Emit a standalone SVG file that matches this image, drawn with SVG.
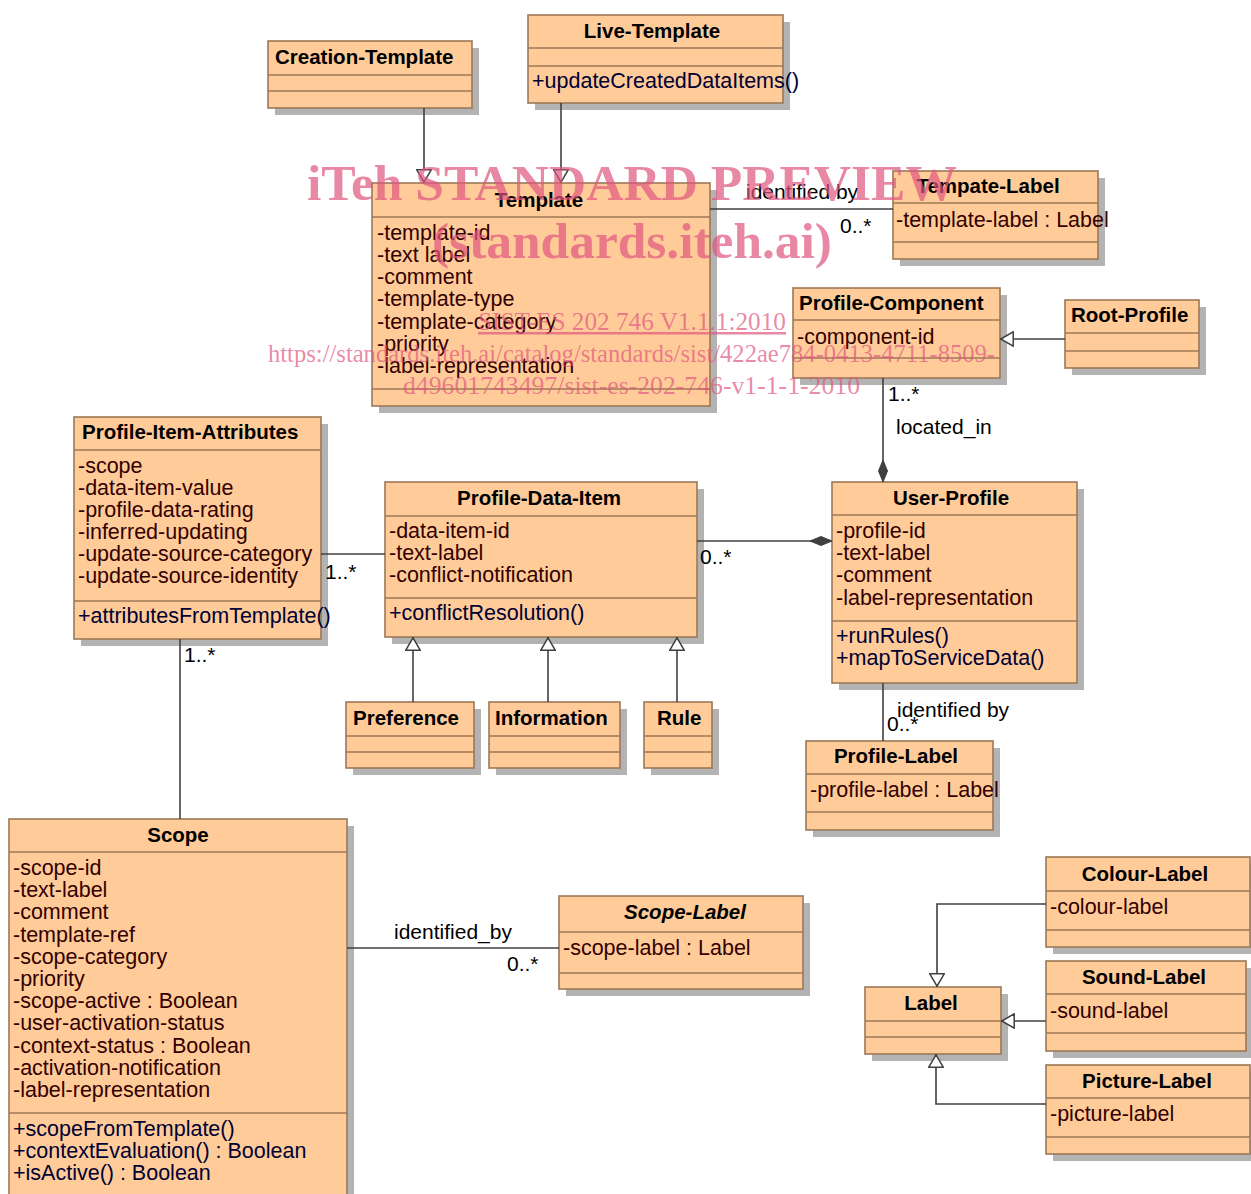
<svg xmlns="http://www.w3.org/2000/svg" width="1251" height="1194" viewBox="0 0 1251 1194">
<style>
.bg{fill:#ffffff}
.shadow{fill:#b3b3b3}
.box{fill:#ffcc99;stroke:#9c7857;stroke-width:1.6}
.sep{stroke:#9c7857;stroke-width:1.6}
text{font-family:"Liberation Sans",Arial,Helvetica,sans-serif}
.title{font-size:20.5px;font-weight:bold;fill:#000000}
.ttl-c{text-anchor:middle}
.italic{font-style:italic}
.attr{font-size:21.5px;fill:#330000}
.meth{font-size:21.5px;fill:#000033}
.lbl{font-size:21px;fill:#000000}
.conn{stroke:#404040;stroke-width:1.6;fill:none}
.gen{marker-end:url(#gen)}
.comp{marker-end:url(#comp)}
.wm{font-family:"Liberation Serif","Times New Roman",serif;fill:#e0557f;fill-opacity:0.7}
.wm-big{font-size:51px;font-weight:bold}
.wm-small{font-size:25px}
</style>
<defs>
<marker id="gen" viewBox="0 0 14 16" refX="14" refY="8" markerWidth="14" markerHeight="16" markerUnits="userSpaceOnUse" orient="auto">
<path d="M0.8,0.8 L13.2,8 L0.8,15.2 Z" fill="#ffffff" stroke="#404040" stroke-width="1.5"/>
</marker>
<marker id="comp" viewBox="0 0 22 10" refX="22" refY="5" markerWidth="22" markerHeight="10" markerUnits="userSpaceOnUse" orient="auto">
<path d="M0,5 L11,0.5 L22,5 L11,9.5 Z" fill="#404040" stroke="#404040" stroke-width="1"/>
</marker>
</defs>
<rect class="bg" x="0" y="0" width="1251" height="1194"/>

<g id="creation-template">
<rect class="shadow" x="275" y="48" width="204" height="67"/>
<rect class="box" x="268" y="41" width="204" height="67"/>
<line class="sep" x1="268" y1="75" x2="472" y2="75"/>
<line class="sep" x1="268" y1="91" x2="472" y2="91"/>
<text class="title" x="275" y="64">Creation-Template</text>
</g>

<g id="live-template">
<rect class="shadow" x="535" y="22" width="255" height="88"/>
<rect class="box" x="528" y="15" width="255" height="88"/>
<line class="sep" x1="528" y1="48" x2="783" y2="48"/>
<line class="sep" x1="528" y1="66" x2="783" y2="66"/>
<text class="title ttl-c" x="652" y="38">Live-Template</text>
<text class="meth" x="532" y="88">+updateCreatedDataItems()</text>
</g>

<g id="template">
<rect class="shadow" x="379" y="190" width="338" height="223"/>
<rect class="box" x="372" y="183" width="338" height="223"/>
<line class="sep" x1="372" y1="217" x2="710" y2="217"/>
<line class="sep" x1="372" y1="389" x2="710" y2="389"/>
<text class="title ttl-c" x="539" y="207">Template</text>
<text class="attr" x="377" y="240">-template-id</text>
<text class="attr" x="377" y="262">-text label</text>
<text class="attr" x="377" y="284">-comment</text>
<text class="attr" x="377" y="306">-template-type</text>
<text class="attr" x="377" y="329">-template-category</text>
<text class="attr" x="377" y="351">-priority</text>
<text class="attr" x="377" y="373">-label-representation</text>
</g>

<g id="tempate-label">
<rect class="shadow" x="900" y="178" width="205" height="88"/>
<rect class="box" x="893" y="171" width="205" height="88"/>
<line class="sep" x1="893" y1="203" x2="1098" y2="203"/>
<line class="sep" x1="893" y1="242" x2="1098" y2="242"/>
<text class="title ttl-c" x="988" y="193">Tempate-Label</text>
<text class="attr" x="896" y="227">-template-label : Label</text>
</g>

<g id="profile-component">
<rect class="shadow" x="800" y="295" width="207" height="90"/>
<rect class="box" x="793" y="288" width="207" height="90"/>
<line class="sep" x1="793" y1="320" x2="1000" y2="320"/>
<line class="sep" x1="793" y1="358" x2="1000" y2="358"/>
<text class="title" x="799" y="310">Profile-Component</text>
<text class="attr" x="797" y="344">-component-id</text>
</g>

<g id="root-profile">
<rect class="shadow" x="1072" y="307" width="134" height="68"/>
<rect class="box" x="1065" y="300" width="134" height="68"/>
<line class="sep" x1="1065" y1="333" x2="1199" y2="333"/>
<line class="sep" x1="1065" y1="351" x2="1199" y2="351"/>
<text class="title" x="1071" y="322">Root-Profile</text>
</g>

<g id="profile-item-attributes">
<rect class="shadow" x="81" y="424" width="247" height="222"/>
<rect class="box" x="74" y="417" width="247" height="222"/>
<line class="sep" x1="74" y1="450" x2="321" y2="450"/>
<line class="sep" x1="74" y1="601" x2="321" y2="601"/>
<text class="title" x="82" y="439">Profile-Item-Attributes</text>
<text class="attr" x="78" y="473">-scope</text>
<text class="attr" x="78" y="495">-data-item-value</text>
<text class="attr" x="78" y="517">-profile-data-rating</text>
<text class="attr" x="78" y="539">-inferred-updating</text>
<text class="attr" x="78" y="561">-update-source-category</text>
<text class="attr" x="78" y="583">-update-source-identity</text>
<text class="meth" x="78" y="623">+attributesFromTemplate()</text>
</g>

<g id="profile-data-item">
<rect class="shadow" x="392" y="489" width="312" height="155"/>
<rect class="box" x="385" y="482" width="312" height="155"/>
<line class="sep" x1="385" y1="516" x2="697" y2="516"/>
<line class="sep" x1="385" y1="598" x2="697" y2="598"/>
<text class="title ttl-c" x="539" y="505">Profile-Data-Item</text>
<text class="attr" x="389" y="538">-data-item-id</text>
<text class="attr" x="389" y="560">-text-label</text>
<text class="attr" x="389" y="582">-conflict-notification</text>
<text class="meth" x="389" y="620">+conflictResolution()</text>
</g>

<g id="user-profile">
<rect class="shadow" x="839" y="489" width="245" height="201"/>
<rect class="box" x="832" y="482" width="245" height="201"/>
<line class="sep" x1="832" y1="515" x2="1077" y2="515"/>
<line class="sep" x1="832" y1="621" x2="1077" y2="621"/>
<text class="title ttl-c" x="951" y="505">User-Profile</text>
<text class="attr" x="836" y="538">-profile-id</text>
<text class="attr" x="836" y="560">-text-label</text>
<text class="attr" x="836" y="582">-comment</text>
<text class="attr" x="836" y="605">-label-representation</text>
<text class="meth" x="836" y="643">+runRules()</text>
<text class="meth" x="836" y="665">+mapToServiceData()</text>
</g>

<g id="profile-label">
<rect class="shadow" x="813" y="748" width="187" height="89"/>
<rect class="box" x="806" y="741" width="187" height="89"/>
<line class="sep" x1="806" y1="774" x2="993" y2="774"/>
<line class="sep" x1="806" y1="812" x2="993" y2="812"/>
<text class="title ttl-c" x="896" y="763">Profile-Label</text>
<text class="attr" x="810" y="797">-profile-label : Label</text>
</g>

<g id="preference">
<rect class="shadow" x="353" y="709" width="128" height="66"/>
<rect class="box" x="346" y="702" width="128" height="66"/>
<line class="sep" x1="346" y1="736" x2="474" y2="736"/>
<line class="sep" x1="346" y1="752" x2="474" y2="752"/>
<text class="title" x="353" y="725">Preference</text>
</g>

<g id="information">
<rect class="shadow" x="496" y="709" width="131" height="66"/>
<rect class="box" x="489" y="702" width="131" height="66"/>
<line class="sep" x1="489" y1="736" x2="620" y2="736"/>
<line class="sep" x1="489" y1="752" x2="620" y2="752"/>
<text class="title" x="495" y="725">Information</text>
</g>

<g id="rule">
<rect class="shadow" x="651" y="709" width="68" height="66"/>
<rect class="box" x="644" y="702" width="68" height="66"/>
<line class="sep" x1="644" y1="736" x2="712" y2="736"/>
<line class="sep" x1="644" y1="752" x2="712" y2="752"/>
<text class="title" x="657" y="725">Rule</text>
</g>

<g id="scope">
<rect class="shadow" x="16" y="826" width="338" height="380"/>
<rect class="box" x="9" y="819" width="338" height="380"/>
<line class="sep" x1="9" y1="852" x2="347" y2="852"/>
<line class="sep" x1="9" y1="1113" x2="347" y2="1113"/>
<text class="title ttl-c" x="178" y="842">Scope</text>
<text class="attr" x="13" y="875">-scope-id</text>
<text class="attr" x="13" y="897">-text-label</text>
<text class="attr" x="13" y="919">-comment</text>
<text class="attr" x="13" y="942">-template-ref</text>
<text class="attr" x="13" y="964">-scope-category</text>
<text class="attr" x="13" y="986">-priority</text>
<text class="attr" x="13" y="1008">-scope-active : Boolean</text>
<text class="attr" x="13" y="1030">-user-activation-status</text>
<text class="attr" x="13" y="1053">-context-status : Boolean</text>
<text class="attr" x="13" y="1075">-activation-notification</text>
<text class="attr" x="13" y="1097">-label-representation</text>
<text class="meth" x="13" y="1136">+scopeFromTemplate()</text>
<text class="meth" x="13" y="1158">+contextEvaluation() : Boolean</text>
<text class="meth" x="13" y="1180">+isActive() : Boolean</text>
</g>

<g id="scope-label">
<rect class="shadow" x="566" y="903" width="244" height="93"/>
<rect class="box" x="559" y="896" width="244" height="93"/>
<line class="sep" x1="559" y1="932" x2="803" y2="932"/>
<line class="sep" x1="559" y1="973" x2="803" y2="973"/>
<text class="title ttl-c italic" x="685" y="919">Scope-Label</text>
<text class="attr" x="563" y="955">-scope-label : Label</text>
</g>

<g id="label">
<rect class="shadow" x="872" y="994" width="136" height="67"/>
<rect class="box" x="865" y="987" width="136" height="67"/>
<line class="sep" x1="865" y1="1021" x2="1001" y2="1021"/>
<line class="sep" x1="865" y1="1037" x2="1001" y2="1037"/>
<text class="title ttl-c" x="931" y="1010">Label</text>
</g>

<g id="colour-label">
<rect class="shadow" x="1053" y="864" width="204" height="90"/>
<rect class="box" x="1046" y="857" width="204" height="90"/>
<line class="sep" x1="1046" y1="891" x2="1250" y2="891"/>
<line class="sep" x1="1046" y1="930" x2="1250" y2="930"/>
<text class="title ttl-c" x="1145" y="881">Colour-Label</text>
<text class="attr" x="1050" y="914">-colour-label</text>
</g>

<g id="sound-label">
<rect class="shadow" x="1053" y="968" width="200" height="90"/>
<rect class="box" x="1046" y="961" width="200" height="90"/>
<line class="sep" x1="1046" y1="994" x2="1246" y2="994"/>
<line class="sep" x1="1046" y1="1033" x2="1246" y2="1033"/>
<text class="title ttl-c" x="1144" y="984">Sound-Label</text>
<text class="attr" x="1050" y="1018">-sound-label</text>
</g>

<g id="picture-label">
<rect class="shadow" x="1053" y="1072" width="204" height="89"/>
<rect class="box" x="1046" y="1065" width="204" height="89"/>
<line class="sep" x1="1046" y1="1098" x2="1250" y2="1098"/>
<line class="sep" x1="1046" y1="1137" x2="1250" y2="1137"/>
<text class="title ttl-c" x="1147" y="1088">Picture-Label</text>
<text class="attr" x="1050" y="1121">-picture-label</text>
</g>

<g id="connectors">
<line class="conn gen" x1="424" y1="108" x2="424" y2="183"/>
<line class="conn gen" x1="561" y1="103" x2="561" y2="183"/>
<line class="conn" x1="710" y1="209" x2="893" y2="209"/>
<line class="conn gen" x1="1065" y1="339" x2="1000" y2="339"/>
<line class="conn comp" x1="883" y1="378" x2="883" y2="482"/>
<line class="conn" x1="321" y1="554" x2="385" y2="554"/>
<line class="conn comp" x1="697" y1="541" x2="832" y2="541"/>
<line class="conn gen" x1="413" y1="702" x2="413" y2="637"/>
<line class="conn gen" x1="548" y1="702" x2="548" y2="637"/>
<line class="conn gen" x1="677" y1="702" x2="677" y2="637"/>
<line class="conn" x1="883" y1="683" x2="883" y2="741"/>
<line class="conn" x1="180" y1="639" x2="180" y2="819"/>
<line class="conn" x1="347" y1="948" x2="559" y2="948"/>
<polyline class="conn gen" points="1046,904 937,904 937,987"/>
<line class="conn gen" x1="1046" y1="1021" x2="1001" y2="1021"/>
<polyline class="conn gen" points="1046,1104 936,1104 936,1054"/>
<text class="lbl" x="746" y="199">identified by</text>
<text class="lbl" x="840" y="233">0..*</text>
<text class="lbl" x="888" y="401">1..*</text>
<text class="lbl" x="896" y="434">located_in</text>
<text class="lbl" x="325" y="579">1..*</text>
<text class="lbl" x="700" y="564">0..*</text>
<text class="lbl" x="897" y="717">identified by</text>
<text class="lbl" x="887" y="731">0..*</text>
<text class="lbl" x="184" y="662">1..*</text>
<text class="lbl" x="394" y="939">identified_by</text>
<text class="lbl" x="507" y="971">0..*</text>
</g>

<g id="watermark">
<text class="wm wm-big" x="307" y="200" textLength="650" lengthAdjust="spacingAndGlyphs">iTeh STANDARD PREVIEW</text>
<text class="wm wm-big" x="432" y="258" textLength="400" lengthAdjust="spacingAndGlyphs">(standards.iteh.ai)</text>
<text class="wm wm-small" x="478" y="330" textLength="308" lengthAdjust="spacingAndGlyphs" text-decoration="underline">SIST-ES 202 746 V1.1.1:2010</text>
<text class="wm wm-small" x="268" y="362" textLength="727" lengthAdjust="spacingAndGlyphs">https://standards.iteh.ai/catalog/standards/sist/422ae784-0413-4711-8509-</text>
<text class="wm wm-small" x="403" y="394" textLength="457" lengthAdjust="spacingAndGlyphs">d49601743497/sist-es-202-746-v1-1-1-2010</text>
</g>
</svg>
